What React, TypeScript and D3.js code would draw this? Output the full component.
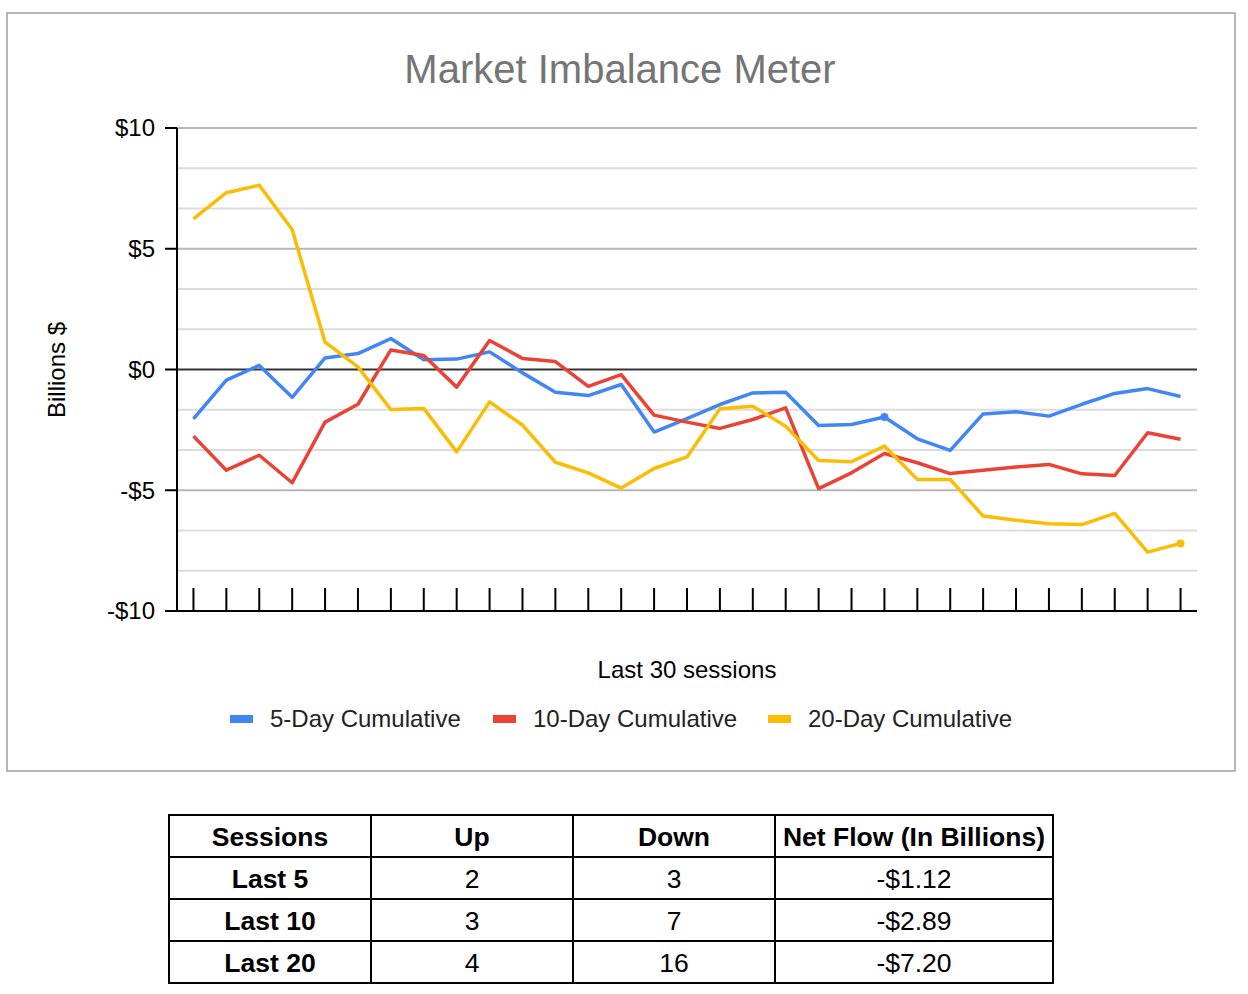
import { useEffect, useRef } from 'react';
import * as d3 from 'd3';

// ─── Data ───────────────────────────────────────────────────

const SESSIONS = d3.range(1, 32).map(String);

const FIVE_DAY = [
  -2.04, -0.44, 0.17, -1.15, 0.48, 0.66, 1.28, 0.4, 0.43, 0.73,
  -0.14, -0.94, -1.08, -0.62, -2.59, -2.03, -1.45, -0.97, -0.94, -2.32,
  -2.28, -1.97, -2.87, -3.35, -1.84, -1.75, -1.93, -1.44, -0.99, -0.79,
  -1.12,
];

const TEN_DAY = [
  -2.76, -4.17, -3.55, -4.69, -2.18, -1.44, 0.81, 0.58, -0.73, 1.2,
  0.46, 0.33, -0.7, -0.21, -1.89, -2.18, -2.44, -2.07, -1.59, -4.93,
  -4.28, -3.48, -3.86, -4.31, -4.17, -4.04, -3.93, -4.32, -4.39, -2.62,
  -2.89,
];

const TWENTY_DAY = [
  6.24, 7.32, 7.63, 5.8, 1.13, 0.11, -1.66, -1.61, -3.41, -1.34,
  -2.3, -3.84, -4.28, -4.91, -4.1, -3.62, -1.63, -1.52, -2.35, -3.77,
  -3.82, -3.17, -4.55, -4.55, -6.07, -6.24, -6.39, -6.42, -5.96, -7.56,
  -7.2,
];

const SERIES_NAMES = ['5-Day Cumulative', '10-Day Cumulative', '20-Day Cumulative'];
const Y_TICKS = [10, 5, 0, -5, -10];
const Y_TICK_LABELS = ['$10', '$5', '$0', '-$5', '-$10'];

const TABLE_HEADER = ['Sessions', 'Up', 'Down', 'Net Flow (In Billions)'];
const TABLE_ROWS = [
  ['Last 5', '2', '3', '-$1.12'],
  ['Last 10', '3', '7', '-$2.89'],
  ['Last 20', '4', '16', '-$7.20'],
];

// ─── Constants ──────────────────────────────────────────────

const W = 1248;
const H = 994;
const COLORS = ['#4285F4', '#EA4335', '#FBBC04'];
const FONT = 'Arial, "Liberation Sans", sans-serif';
const PLOT = { left: 177, right: 1197, top: 128, bottom: 611 };

// ─── Component ──────────────────────────────────────────────

export default function App() {
  const svgRef = useRef<SVGSVGElement>(null);

  useEffect(() => {
    if (!svgRef.current) return;
    const svg = d3.select(svgRef.current);
    svg.selectAll('*').remove();

    const data = [FIVE_DAY, TEN_DAY, TWENTY_DAY];

    svg.append('rect')
      .attr('width', W).attr('height', H).attr('fill', '#fff');

    // outer frame
    svg.append('rect')
      .attr('x', 7).attr('y', 13).attr('width', 1228).attr('height', 758)
      .attr('fill', 'none').attr('stroke', '#9e9e9e').attr('stroke-width', 1.5);

    svg.append('text')
      .attr('x', 620).attr('y', 83)
      .attr('text-anchor', 'middle')
      .attr('font-family', FONT).attr('font-size', 40)
      .attr('fill', '#757575')
      .text('Market Imbalance Meter');

    const x = d3.scaleBand<string>()
      .domain(SESSIONS)
      .range([PLOT.left, PLOT.right]);
    const cx = (i: number) => (x(SESSIONS[i]) ?? 0) + x.bandwidth() / 2;

    const y = d3.scaleLinear()
      .domain([-10, 10])
      .range([PLOT.bottom, PLOT.top]);

    // gridlines: minor every 5/3, major every 5
    const grid = d3.range(0, 12);
    svg.append('g')
      .selectAll('line')
      .data(grid)
      .join('line')
      .attr('x1', PLOT.left).attr('x2', PLOT.right)
      .attr('y1', (k) => y(-10 + (k * 5) / 3)).attr('y2', (k) => y(-10 + (k * 5) / 3))
      .attr('stroke', (k) => (k === 6 ? '#333' : k % 3 === 0 ? '#b7b7b7' : '#dcdcdc'))
      .attr('stroke-width', 2);
    svg.append('line')
      .attr('x1', PLOT.left).attr('x2', PLOT.right)
      .attr('y1', y(10)).attr('y2', y(10))
      .attr('stroke', '#b7b7b7').attr('stroke-width', 2);

    // y axis
    svg.append('line')
      .attr('x1', PLOT.left).attr('x2', PLOT.left)
      .attr('y1', PLOT.top).attr('y2', PLOT.bottom)
      .attr('stroke', '#000').attr('stroke-width', 2);
    const yAxis = svg.append('g');
    yAxis.selectAll('line')
      .data(Y_TICKS)
      .join('line')
      .attr('x1', 165).attr('x2', PLOT.left)
      .attr('y1', (d) => y(d)).attr('y2', (d) => y(d))
      .attr('stroke', '#000').attr('stroke-width', 2);
    yAxis.selectAll('text')
      .data(Y_TICKS)
      .join('text')
      .attr('x', 155)
      .attr('y', (d) => y(d))
      .attr('dy', '0.35em')
      .attr('text-anchor', 'end')
      .attr('font-family', FONT).attr('font-size', 24)
      .attr('fill', '#000')
      .text((_, i) => Y_TICK_LABELS[i]);

    // x axis
    svg.append('line')
      .attr('x1', 165).attr('x2', PLOT.right)
      .attr('y1', PLOT.bottom).attr('y2', PLOT.bottom)
      .attr('stroke', '#000').attr('stroke-width', 2);
    svg.append('g')
      .selectAll('line')
      .data(SESSIONS)
      .join('line')
      .attr('x1', (_, i) => cx(i)).attr('x2', (_, i) => cx(i))
      .attr('y1', PLOT.bottom - 23).attr('y2', PLOT.bottom)
      .attr('stroke', '#000').attr('stroke-width', 2);

    // axis titles
    svg.append('text')
      .attr('transform', 'translate(65,370) rotate(-90)')
      .attr('text-anchor', 'middle')
      .attr('font-family', FONT).attr('font-size', 24)
      .attr('fill', '#000')
      .text('Billions $');
    svg.append('text')
      .attr('x', 687).attr('y', 678)
      .attr('text-anchor', 'middle')
      .attr('font-family', FONT).attr('font-size', 24)
      .attr('fill', '#000')
      .text('Last 30 sessions');

    // lines
    const line = d3.line<number>()
      .x((_, i) => cx(i))
      .y((d) => y(d));
    data.forEach((vals, s) => {
      svg.append('path')
        .datum(vals)
        .attr('d', line)
        .attr('fill', 'none')
        .attr('stroke', COLORS[s])
        .attr('stroke-width', 3.5)
        .attr('stroke-linejoin', 'round');
    });

    // highlighted points
    const marks = [{ s: 0, i: 21 }, { s: 2, i: 30 }];
    svg.append('g')
      .selectAll('circle')
      .data(marks)
      .join('circle')
      .attr('cx', (d) => cx(d.i))
      .attr('cy', (d) => y(data[d.s][d.i]))
      .attr('r', 4)
      .attr('fill', (d) => COLORS[d.s]);

    // legend
    const legendX = [230, 493, 768];
    const legend = svg.append('g');
    SERIES_NAMES.forEach((name, s) => {
      legend.append('rect')
        .attr('x', legendX[s]).attr('y', 715)
        .attr('width', 23).attr('height', 8)
        .attr('fill', COLORS[s]);
      legend.append('text')
        .attr('x', legendX[s] + 40).attr('y', 719)
        .attr('dy', '0.35em')
        .attr('font-family', FONT).attr('font-size', 24)
        .attr('fill', '#222')
        .text(name);
    });

    // table
    const colX = [169, 371, 573, 775, 1053];
    const rowY = [815, 857, 899, 941, 983];
    const rows = [TABLE_HEADER, ...TABLE_ROWS];
    const table = svg.append('g');
    rows.forEach((row, r) => {
      row.forEach((cell, c) => {
        table.append('rect')
          .attr('x', colX[c]).attr('y', rowY[r])
          .attr('width', colX[c + 1] - colX[c])
          .attr('height', rowY[r + 1] - rowY[r])
          .attr('fill', 'none')
          .attr('stroke', '#000').attr('stroke-width', 2);
        table.append('text')
          .attr('x', (colX[c] + colX[c + 1]) / 2)
          .attr('y', (rowY[r] + rowY[r + 1]) / 2)
          .attr('dy', '0.36em')
          .attr('text-anchor', 'middle')
          .attr('font-family', FONT)
          .attr('font-size', 26.5)
          .attr('font-weight', r === 0 || c === 0 ? 700 : 400)
          .attr('fill', '#000')
          .text(cell);
      });
    });
  }, []);

  return (
    <svg
      ref={svgRef}
      width={W}
      height={H}
      style={{ position: 'absolute', left: 0, top: 0, display: 'block' }}
    />
  );
}
